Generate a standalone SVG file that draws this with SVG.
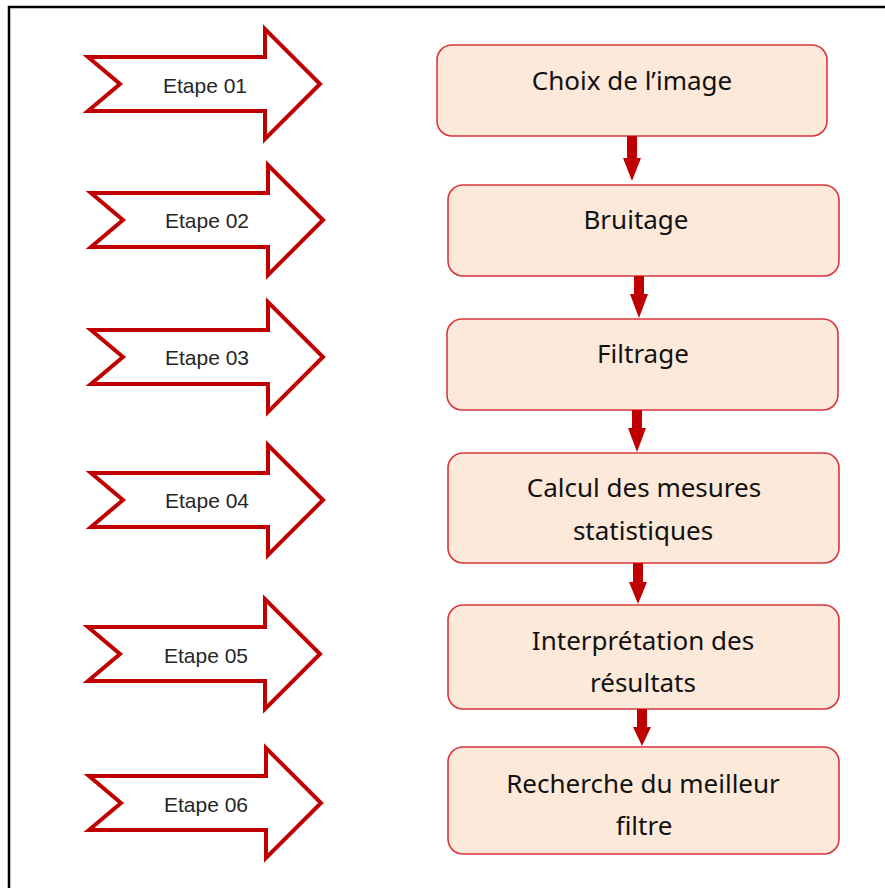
<svg xmlns="http://www.w3.org/2000/svg" width="885" height="888" viewBox="0 0 885 888">
<style>
.step{fill:#ffffff;stroke:#c00000;stroke-width:4;stroke-linejoin:miter}
.steptxt{font-family:"Liberation Sans",Arial,sans-serif;font-size:21px;fill:#262626;text-anchor:middle}
.box{fill:#fde9d9;stroke:#d9363e;stroke-width:1.6}
.boxtxt{font-family:"Comic Sans MS","Noto Sans",sans-serif;font-size:26px;fill:#111111;text-anchor:middle}
.conn{fill:#c00000}
</style>
<defs>
<path id="stepArrow" d="M0,-27 L177,-27 L177,-55 L232,0 L177,55 L177,27 L0,27 L32,0 Z"/>
<path id="dArrow" d="M-5,0 L5,0 L5,-22 L9,-22 L0,0 L-9,-22 L-5,-22 Z"/>
</defs>
<rect x="0" y="0" width="885" height="888" fill="#ffffff"/>
<g id="frame">
<path d="M9,888 L9,7 L885,7" fill="none" stroke="#000000" stroke-width="2.5"/>
</g>
<g id="etape01"><use href="#stepArrow" class="step" transform="translate(88,84)"/><text class="steptxt" x="205" y="93">Etape 01</text></g>
<g id="etape02"><use href="#stepArrow" class="step" transform="translate(91,220)"/><text class="steptxt" x="207" y="228">Etape 02</text></g>
<g id="etape03"><use href="#stepArrow" class="step" transform="translate(91,357)"/><text class="steptxt" x="207" y="365">Etape 03</text></g>
<g id="etape04"><use href="#stepArrow" class="step" transform="translate(91,500)"/><text class="steptxt" x="207" y="508">Etape 04</text></g>
<g id="etape05"><use href="#stepArrow" class="step" transform="translate(88,654)"/><text class="steptxt" x="206" y="663">Etape 05</text></g>
<g id="etape06"><use href="#stepArrow" class="step" transform="translate(89,803)"/><text class="steptxt" x="206" y="812">Etape 06</text></g>

<g id="box1"><rect class="box" x="437" y="45" width="390" height="91" rx="15"/><text class="boxtxt" x="632" y="90">Choix de l’image</text></g>
<g id="box2"><rect class="box" x="448" y="185" width="391" height="91" rx="15"/><text class="boxtxt" x="636" y="229">Bruitage</text></g>
<g id="box3"><rect class="box" x="447" y="319" width="391" height="91" rx="15"/><text class="boxtxt" x="643" y="363">Filtrage</text></g>
<g id="box4"><rect class="box" x="448" y="453" width="391" height="110" rx="15"/><text class="boxtxt" x="644" y="497">Calcul des mesures</text><text class="boxtxt" x="643" y="540">statistiques</text></g>
<g id="box5"><rect class="box" x="448" y="605" width="391" height="104" rx="15"/><text class="boxtxt" x="643" y="650">Interprétation des</text><text class="boxtxt" x="643" y="692">résultats</text></g>
<g id="box6"><rect class="box" x="448" y="747" width="391" height="107" rx="15"/><text class="boxtxt" x="643" y="793">Recherche du meilleur</text><text class="boxtxt" x="644" y="835">filtre</text></g>

<g id="connectors">
<path class="conn" d="M627,136 L637,136 L637,158 L641,158 L632,181 L623,158 L627,158 Z"/>
<path class="conn" d="M634,276 L644,276 L644,294 L648,294 L639,318 L630,294 L634,294 Z"/>
<path class="conn" d="M632,410 L642,410 L642,428 L646,428 L637,452 L628,428 L632,428 Z"/>
<path class="conn" d="M633,563 L643,563 L643,582 L647,582 L638,604 L629,582 L633,582 Z"/>
<path class="conn" d="M637,709 L647,709 L647,727 L651,727 L642,746 L633,727 L637,727 Z"/>
</g>
</svg>
